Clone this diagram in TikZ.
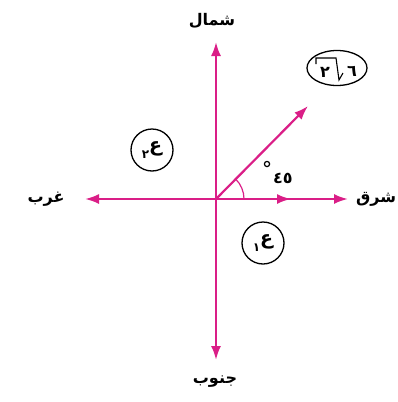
\documentclass[tikz,border=0pt]{standalone}
\usepackage{fontspec}
\newfontfamily\arabicfont[Script=Arabic]{DejaVu Sans}
\TeXXeTstate=1
\usetikzlibrary{arrows.meta,shapes.geometric}
\definecolor{mag}{RGB}{218,30,135}
\tikzset{
  vec/.style={draw=mag, line width=2.2pt, -{Latex[length=14pt,width=10pt]}},
  lbl/.style={font=\arabicfont\bfseries\fontsize{16}{18}\selectfont, inner sep=1pt},
  ring/.style={draw, circle, line width=1.3pt, minimum size=42pt, inner sep=0pt},
  oval/.style={draw, ellipse, line width=1.3pt, minimum width=60pt, minimum height=35pt, inner sep=0pt},
  sym/.style={font=\arabicfont\bfseries\fontsize{16}{18}\selectfont, inner sep=0pt},
  big/.style={font=\arabicfont\bfseries\fontsize{19}{21}\selectfont, inner sep=0pt}
}
\begin{document}
\begin{tikzpicture}[x=1pt,y=-1pt]
\useasboundingbox (0,0) rectangle (398,402);
\coordinate (O) at (216,199);
\coordinate (N) at (216,42);
\coordinate (S) at (216,360);
\coordinate (W) at (85,199);
\coordinate (E) at (348,199);
\coordinate (E1) at (291,199);
\coordinate (D) at (308,106);
\coordinate (A0) at (244,199);
\draw[vec] (O) -- (N);
\draw[vec] (O) -- (S);
\draw[vec] (O) -- (W);
\draw[vec] (O) -- (E);
\draw[vec] (O) -- (E1);
\draw[vec] (O) -- (D);
\draw[mag, line width=1.2pt] (A0) arc[start angle=0, end angle=-45, radius=28];
% direction labels
\node[lbl] (nn) at (212,21) {\beginR شمال\endR};
\node[lbl] (ns) at (215,382) {\beginR جنوب\endR};
\node[lbl] (nw) at (46,199) {\beginR غرب\endR};
\node[lbl] (ne) at (376,199) {\beginR شرق\endR};
% angle label
\node[sym] (ang) at (283,178) {٤٥};
\draw[line width=1.2pt] (267,164) circle[radius=2.6];
% vector labels
\node[ring] (c2) at (152,150) {};
\node[big] (t2) at (c2) {\raisebox{-7pt}{\fontsize{12}{13}\selectfont ٢}ع};
\node[ring] (c1) at (263,243) {};
\node[big] (t1) at (c1) {\raisebox{-7pt}{\fontsize{12}{13}\selectfont ١}ع};
\node[oval] (c3) at (337,68) {};
\node[sym] (r2) at (325,72) {٢};
\node[sym] (r6) at (352,71) {٦};
\draw[line width=1.1pt] (316,64) -- (316,58) -- (336,58) -- (339,80) -- (343,73);
\end{tikzpicture}
\end{document}
